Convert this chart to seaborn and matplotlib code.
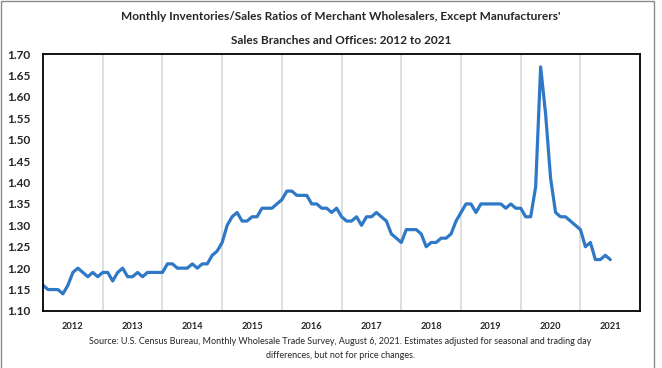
import numpy as np
import pandas as pd
import matplotlib
matplotlib.use("Agg")
import matplotlib.pyplot as plt
import seaborn as sns
from matplotlib.patches import Rectangle

### Razões Estoques/Vendas mensais, dez/2011 a jun/2021 ###

anos = ['2012', '2013', '2014', '2015', '2016', '2017', '2018', '2019', '2020', '2021']

razao_2012 = [1.16, 1.15, 1.15, 1.15, 1.14, 1.16, 1.19, 1.20, 1.19, 1.18, 1.19, 1.18]
razao_2013 = [1.19, 1.19, 1.17, 1.19, 1.20, 1.18, 1.18, 1.19, 1.18, 1.19, 1.19, 1.19]
razao_2014 = [1.19, 1.21, 1.21, 1.20, 1.20, 1.20, 1.21, 1.20, 1.21, 1.21, 1.23, 1.24]
razao_2015 = [1.26, 1.30, 1.32, 1.33, 1.31, 1.31, 1.32, 1.32, 1.34, 1.34, 1.34, 1.35]
razao_2016 = [1.36, 1.38, 1.38, 1.37, 1.37, 1.37, 1.35, 1.35, 1.34, 1.34, 1.33, 1.34]
razao_2017 = [1.32, 1.31, 1.31, 1.32, 1.30, 1.32, 1.32, 1.33, 1.32, 1.31, 1.28, 1.27]
razao_2018 = [1.26, 1.29, 1.29, 1.29, 1.28, 1.25, 1.26, 1.26, 1.27, 1.27, 1.28, 1.31]
razao_2019 = [1.33, 1.35, 1.35, 1.33, 1.35, 1.35, 1.35, 1.35, 1.35, 1.34, 1.35, 1.34]
razao_2020 = [1.34, 1.32, 1.32, 1.39, 1.67, 1.56, 1.41, 1.33, 1.32, 1.32, 1.31, 1.30]
razao_2021 = [1.29, 1.25, 1.26, 1.22, 1.22, 1.23, 1.22]

razao = (razao_2012 + razao_2013 + razao_2014 + razao_2015 + razao_2016
         + razao_2017 + razao_2018 + razao_2019 + razao_2020 + razao_2021)

df = pd.DataFrame({'Mes': np.arange(len(razao)), 'Razao': razao})

sns.set_style("white")
plt.rcParams['font.family'] = ['Lato', 'DejaVu Sans']

fig = plt.figure(figsize=(6.62, 3.68), dpi=100)
ax = fig.add_axes([0.065, 0.155, 0.902, 0.698])

sns.lineplot(data=df, x='Mes', y='Razao', color='#2f78c6', linewidth=2.3, ax=ax)

ax.set_xlim(0, 120)
ax.set_ylim(1.10, 1.70)
ax.set_yticks(np.arange(1.10, 1.701, 0.05))
ax.set_yticklabels([f'{v:.2f}' for v in np.arange(1.10, 1.701, 0.05)],
                   fontsize=8.5, fontweight='bold')
ax.set_xticks(np.arange(6, 120, 12))
ax.set_xticklabels(anos, fontsize=6.7, fontweight='bold')
ax.set_xticks(np.arange(12, 120, 12), minor=True)
ax.grid(which='minor', axis='x', color='#dcdcdc', linewidth=1.3)
ax.tick_params(which='both', length=0)
ax.tick_params(axis='x', pad=8)
ax.tick_params(axis='y', pad=9)
ax.set_xlabel('')
ax.set_ylabel('')
for s in ax.spines.values():
    s.set_color('black')
    s.set_linewidth(1.3)

fig.text(0.515, 0.954,
         "Monthly Inventories/Sales Ratios of Merchant Wholesalers, Except Manufacturers'",
         ha='center', va='center', fontsize=8.6, fontweight='bold')
fig.text(0.515, 0.891, "Sales Branches and Offices: 2012 to 2021",
         ha='center', va='center', fontsize=8.6, fontweight='bold')
fig.text(0.514, 0.071,
         "Source: U.S. Census Bureau, Monthly Wholesale Trade Survey, August 6, 2021. "
         "Estimates adjusted for seasonal and trading day",
         ha='center', va='center', fontsize=6.45)
fig.text(0.514, 0.033, "differences, but not for price changes.",
         ha='center', va='center', fontsize=6.45)

# moldura externa
fig.patches.append(Rectangle((0.002, -0.01), 0.986, 1.007, transform=fig.transFigure,
                             fill=False, edgecolor='#8c8c8c', linewidth=1))

plt.savefig('out.png', dpi=100)
